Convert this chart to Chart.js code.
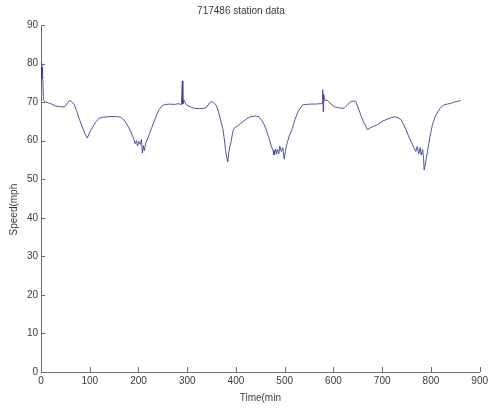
<!DOCTYPE html>
<html>
<head>
<meta charset="utf-8">
<script src="https://cdn.jsdelivr.net/npm/chart.js@4"></script>
<style>
  html, body { margin: 0; padding: 0; background: #fff; }
  #wrap { width: 491px; height: 410px; }
</style>
</head>
<body>
<div id="wrap"><canvas id="speedChart" width="491" height="410"></canvas></div>
<script>
// values (time in min, speed in mph)
const times = [0, 1, 2, 3, 5, 10, 20, 30, 40, 48, 53, 58, 63, 68, 73, 78, 84, 90, 95, 100,
  105, 112, 119, 128, 136, 150, 163, 170, 177, 184, 190, 193, 196, 198, 201, 204, 206, 208, 210, 212,
  215, 222, 227, 232, 237, 242, 248, 253, 263, 273, 283, 288, 290, 291, 293, 298, 306, 314, 324, 334,
  340, 345, 349, 354, 359, 363, 366, 370, 373, 376, 379, 382, 383, 386, 390, 393, 396, 403, 410, 420,
  430, 440, 447, 453, 458, 463, 468, 473, 476, 478, 481, 483, 485, 488, 490, 493, 496, 499, 502, 506,
  510, 516, 521, 526, 531, 537, 545, 554, 564, 574, 577, 578, 579, 580, 582, 588, 595, 602, 612, 622,
  628, 635, 641, 646, 651, 656, 663, 670, 675, 680, 690, 700, 707, 715, 725, 733, 739, 744, 749, 754,
  759, 764, 769, 772, 775, 778, 780, 783, 785, 786, 788, 790, 793, 798, 803, 808, 814, 820, 827, 834,
  841, 848, 855, 861];
const speeds = [78, 80, 76, 79, 70.5, 70, 69.6, 69, 68.8, 68.7, 69.5, 70.4, 70.1, 69.4, 67.8, 65.8, 63.8, 61.8, 60.7, 62.2,
  63.3, 64.8, 65.8, 66.1, 66.2, 66.3, 66.1, 65.4, 64.1, 62.4, 60.6, 59.2, 60.0, 58.6, 59.8, 59.0, 60.3, 56.8, 58.7, 57.4,
  59.4, 61.5, 63.3, 64.9, 66.6, 68, 69, 69.3, 69.5, 69.4, 69.6, 69.3, 75.5, 69.5, 70.6, 69.3, 68.8, 68.4, 68.3, 68.4,
  68.7, 69.7, 70.1, 69.9, 69.3, 68, 66.7, 64.5, 63.2, 60.5, 57.2, 55, 54.6, 57.5, 59.8, 62, 63.2, 63.8, 64.5, 65.5,
  66.2, 66.4, 66.2, 65.2, 64.1, 62.5, 60.6, 58.4, 57.5, 56.3, 57.8, 56.5, 57.8, 56.6, 58.6, 57.2, 58.2, 55.2, 57.8, 59.8,
  61.5, 63.2, 65.5, 67.1, 68.3, 69.3, 69.4, 69.5, 69.5, 69.6, 69.6, 73.2, 67.5, 72, 70.5, 70.4, 69.5, 68.8, 68.5, 68.4,
  69.2, 70.1, 70.3, 70.1, 68.5, 66.7, 64.5, 62.8, 63.3, 63.6, 64.1, 65, 65.4, 65.8, 66.2, 65.9, 65.4, 64.2, 62.8, 61.3,
  59.8, 58.4, 57.2, 58.5, 56.6, 58.2, 56.3, 57.7, 55.4, 52.4, 53.5, 55, 57.2, 61, 64.1, 66, 67.5, 68.6, 69.3, 69.5,
  69.7, 70, 70.2, 70.4];
const xTicks = [0, 100, 200, 300, 400, 500, 600, 700, 800, 900];
const yTicks = [0, 10, 20, 30, 40, 50, 60, 70, 80, 90];

const axisColor = "#6a6a6a";
const textColor = "#3a3a3a";
const font = { family: "'Liberation Sans', Arial, sans-serif", size: 10 };

// matlab style tick marks pointing into the plot
const inwardTicks = {
  id: "inwardTicks",
  afterDatasetsDraw(chart) {
    const ctx = chart.ctx, a = chart.chartArea;
    const xs = chart.scales.x, ys = chart.scales.y;
    ctx.save();
    ctx.strokeStyle = axisColor; ctx.lineWidth = 1;
    ctx.beginPath();
    xTicks.forEach(v => { if(v===0) return; const px = Math.round(xs.getPixelForValue(v)) + 0.5; ctx.moveTo(px, a.bottom); ctx.lineTo(px, a.bottom - 5); });
    yTicks.forEach(v => { if(v===0) return; const py = Math.round(ys.getPixelForValue(v)) + 0.5; ctx.moveTo(a.left, py); ctx.lineTo(a.left + 4, py); });
    ctx.stroke();
    ctx.restore();
  }
};

new Chart(document.getElementById("speedChart"), {
  type: "line",
  data: {
    datasets: [{
      data: times.map((t, i) => ({ x: t, y: speeds[i] })),
      borderColor: "rgba(55,55,140,0.85)", borderWidth: 1, pointRadius: 0, tension: 0, fill: false
    }]
  },
  options: {
    responsive: false, animation: false, events: [],
    layout: { padding: { left: 0, right: 9, top: 0, bottom: 0 } },
    plugins: {
      legend: { display: false }, tooltip: { enabled: false },
      title: { display: true, text: "717486 station data", color: textColor, font: { ...font, weight: "normal" }, padding: { top: 5, bottom: 8 } }
    },
    scales: {
      x: {
        type: "linear", min: 0, max: 900,
        afterBuildTicks: s => { s.ticks = xTicks.map(v => ({ value: v })); },
        afterFit: s => { s.height = 38; },
        grid: { display: false, drawTicks: false },
        border: { display: true, color: axisColor, width: 1 },
        ticks: { color: textColor, font, padding: 3, maxRotation: 0 },
        title: { display: true, text: "Time(min", color: textColor, font, padding: { top: 0, bottom: 6 } }
      },
      y: {
        min: 0, max: 90,
        afterBuildTicks: s => { s.ticks = yTicks.map(v => ({ value: v })); },
        afterFit: s => { s.width = 41; },
        grid: { display: false, drawTicks: false },
        border: { display: true, color: axisColor, width: 1 },
        ticks: { color: textColor, font, padding: 3 },
        title: { display: true, text: "Speed(mph\u00a0\u00a0\u00a0\u00a0\u00a0\u00a0\u00a0\u00a0", color: textColor, font, padding: { top: 8, bottom: 0 } }
      }
    }
  },
  plugins: [inwardTicks]
});
</script>
</body>
</html>
